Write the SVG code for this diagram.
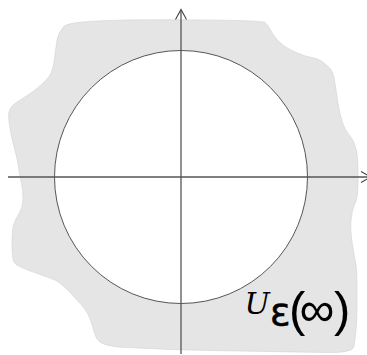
<svg xmlns="http://www.w3.org/2000/svg" width="367" height="355" viewBox="0 0 367 355">
<style>
.axis{stroke:#555;stroke-width:1.3;fill:none}
.head{stroke:#444;stroke-width:1.1;fill:none}
</style>
<rect width="367" height="355" fill="#fff"/>
<g id="neighborhood">
<path fill="#e5e5e5" stroke="#d2d2d2" stroke-width="0.6" d="M64,26.25 Q70,19.5 166,19.75 Q262,20 265,22.5 Q268,25 270.5,30 Q273,35 276.5,39 Q280,43 285,46.5 Q290,50 298.5,53.5 Q307,57 312,57.5 Q317,58 322,61.5 Q327,65 330,68.5 Q333,72 334,77.5 Q335,83 336,90 Q337,97 338.5,106 Q340,115 342.5,122.5 Q345,130 348.5,134 Q352,138 354.5,144 Q357,150 357.5,158.5 Q358,167 358,177 Q358,187 357.5,193.5 Q357,200 354.5,205 Q352,210 351,220 Q350,230 352.5,245 Q355,260 356,265 Q357,270 357,295 Q357,320 356,330 Q355,340 354,346.5 Q353,353 326.5,352.5 Q300,352 240,351 Q180,350 160,349 Q140,348 126.5,347.5 Q113,347 105,344.5 Q97,342 95,334.5 Q93,327 90.5,320 Q88,313 84,308 Q80,303 70,292.5 Q60,282 55,280 Q50,278 41.5,275 Q33,272 26.5,269.5 Q20,267 16,264.5 Q12,262 12,246 Q12,230 13.5,225 Q15,220 19,213.5 Q23,207 23,198.5 Q23,190 21.5,183.5 Q20,177 18.5,167 Q17,157 14.5,148.5 Q12,140 10,128.5 Q8,117 9,112 Q10,107 15,103.5 Q20,100 26.5,96 Q33,92 40,86 Q47,80 50,75 Q53,70 54.5,58.5 Q56,47 57,40 Q58,33 64,26.25 Z"/>
</g>
<g id="circle">
<circle cx="181" cy="177" r="126.5" fill="#fff" stroke="#444" stroke-width="0.9"/>
</g>
<g id="connectors">
<line class="axis" x1="181" y1="10" x2="181" y2="354"/>
<polyline class="head" points="175.5,19.5 181,9.5 186.5,19.5"/>
<line class="axis" x1="8" y1="177" x2="370" y2="177"/>
<polyline class="head" points="361,171.5 371,177 361,182.5"/>
</g>
<g id="label">
<text fill="#000" font-family="'DejaVu Sans',sans-serif"><tspan x="244.5" y="313.5" font-family="'DejaVu Serif',serif" font-style="italic" font-size="30">U</tspan><tspan x="270" y="324.5" font-size="38" stroke="#000" stroke-width="0.6">ε</tspan><tspan x="289 299.5 334" y="326" font-family="'Liberation Sans',sans-serif" font-size="49">(∞)</tspan></text>
</g>
</svg>
